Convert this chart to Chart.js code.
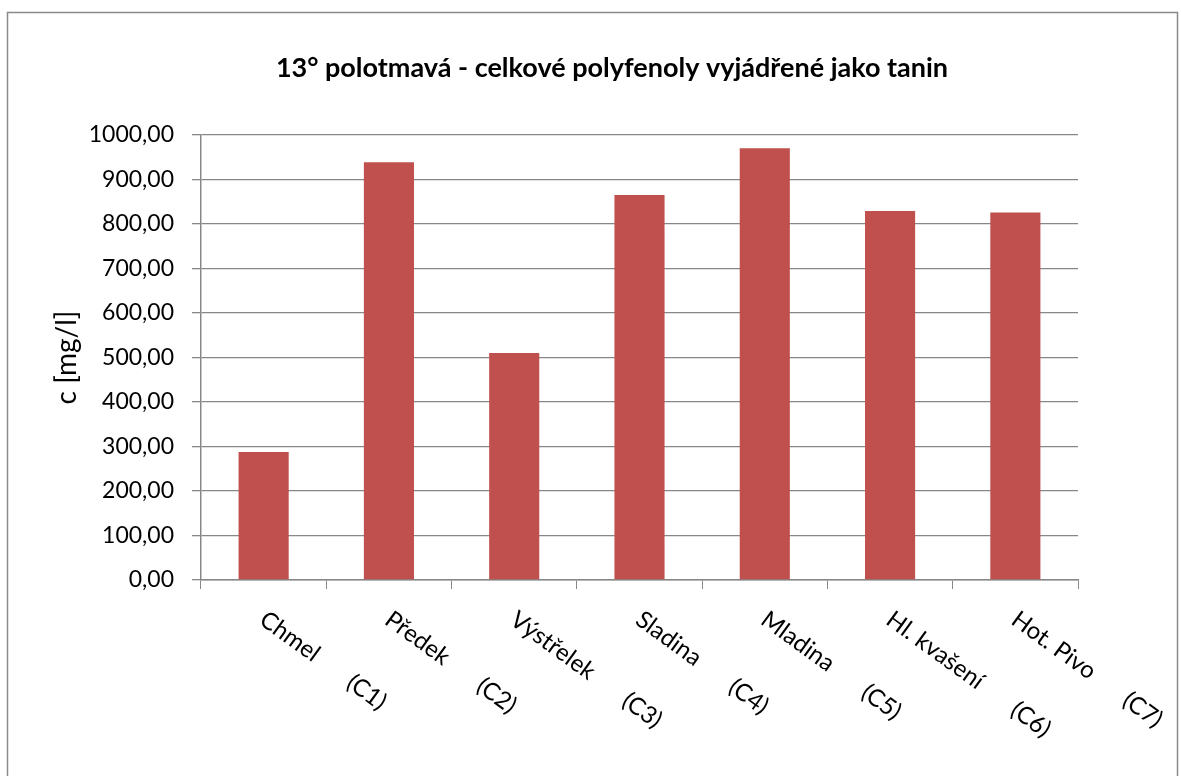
<!DOCTYPE html>
<html lang="cs">
<head>
<meta charset="utf-8">
<title>13° polotmavá - celkové polyfenoly</title>
<script src="https://cdn.jsdelivr.net/npm/chart.js@4.4.1/dist/chart.umd.min.js"></script>
<style>
  html, body { margin: 0; padding: 0; background: #ffffff; }
  #wrap { width: 1181px; height: 776px; position: relative; }
  canvas { display: block; }
</style>
</head>
<body>
<div id="wrap"><canvas id="chart" width="1181" height="776"></canvas></div>
<script>
// Sample names and their codes (drawn on one slanted line under each bar)
const categories = ['Chmel', 'Předek', 'Výstřelek', 'Sladina', 'Mladina', 'Hl. kvašení', 'Hot. Pivo'];
const codes = ['(C1)', '(C2)', '(C3)', '(C4)', '(C5)', '(C6)', '(C7)'];
// Total polyphenols expressed as tannin, mg/l
const values = [287.5, 939, 510, 865, 970, 829, 826];
// Value axis
const yMin = 0;
const yMax = 1000;
const yStep = 100;

const titleText = '13° polotmavá - celkové polyfenoly vyjádřené jako tanin';
const yTitleText = 'c [mg/l]';

const FONT = 'Lato, "Liberation Sans", sans-serif';
const GRID = '#878787';

// White page with a thin grey frame round the whole chart
const framePlugin = {
  id: 'frame',
  beforeDraw(chart) {
    const ctx = chart.ctx;
    ctx.save();
    ctx.fillStyle = '#ffffff';
    ctx.fillRect(0, 0, chart.width, chart.height);
    ctx.strokeStyle = '#8a8a8a';
    ctx.lineWidth = 1.5;
    ctx.strokeRect(7.5, 12.5, 1170, 775);
    ctx.restore();
  }
};

// Chart heading
const headingPlugin = {
  id: 'heading',
  afterDraw(chart) {
    const ctx = chart.ctx;
    ctx.save();
    ctx.font = 'bold 27px ' + FONT;
    ctx.fillStyle = '#000000';
    ctx.textAlign = 'center';
    ctx.textBaseline = 'middle';
    ctx.fillText(titleText, 612, 68);
    ctx.restore();
  }
};

// Slanted category labels, running down-right from each category centre
const slantLabelPlugin = {
  id: 'slantLabels',
  afterDraw(chart) {
    const xs = chart.scales.x;
    const ctx = chart.ctx;
    const angle = 36 * Math.PI / 180;
    ctx.save();
    ctx.font = '24px ' + FONT;
    ctx.fillStyle = '#000000';
    ctx.textAlign = 'left';
    ctx.textBaseline = 'top';
    categories.forEach((name, i) => {
      const x = xs.getPixelForValue(i) + 6;
      const y = xs.top + 27;
      ctx.save();
      ctx.translate(x, y);
      ctx.rotate(angle);
      ctx.fillText(name, 0, 0);
      const w = ctx.measureText(name).width;
      ctx.fillText(codes[i], w + 40, 0);
      ctx.restore();
    });
    ctx.restore();
  }
};

new Chart(document.getElementById('chart'), {
  type: 'bar',
  data: {
    labels: categories,
    datasets: [{
      data: values,
      backgroundColor: '#c0504d',
      borderWidth: 0,
      barPercentage: 0.4,
      categoryPercentage: 1.0
    }]
  },
  options: {
    responsive: false,
    animation: false,
    devicePixelRatio: 1,
    layout: { padding: { top: 135, right: 103, bottom: 0, left: 0 } },
    plugins: {
      legend: { display: false },
      title: { display: false },
      tooltip: { enabled: false }
    },
    scales: {
      x: {
        offset: true,
        grid: {
          display: true,
          drawOnChartArea: false,
          drawTicks: true,
          tickLength: 9,
          color: GRID,
          offset: true
        },
        border: { display: true, color: GRID, width: 1.5 },
        ticks: { display: false },
        afterFit(scale) { scale.height = 196; }
      },
      y: {
        min: yMin,
        max: yMax,
        grid: {
          color: GRID,
          lineWidth: 1.3,
          drawTicks: true,
          tickLength: 9
        },
        border: { display: true, color: GRID, width: 1.5 },
        ticks: {
          stepSize: yStep,
          padding: 18,
          color: '#000000',
          font: { family: FONT, size: 23 },
          callback: (v) => Number(v).toFixed(2).replace('.', ',')
        },
        title: {
          display: true,
          text: yTitleText,
          color: '#000000',
          font: { family: FONT, size: 28 },
          padding: { top: 50, bottom: 0 }
        },
        afterFit(scale) { scale.width = 201; }
      }
    }
  },
  plugins: [framePlugin, headingPlugin, slantLabelPlugin]
});
</script>
</body>
</html>
